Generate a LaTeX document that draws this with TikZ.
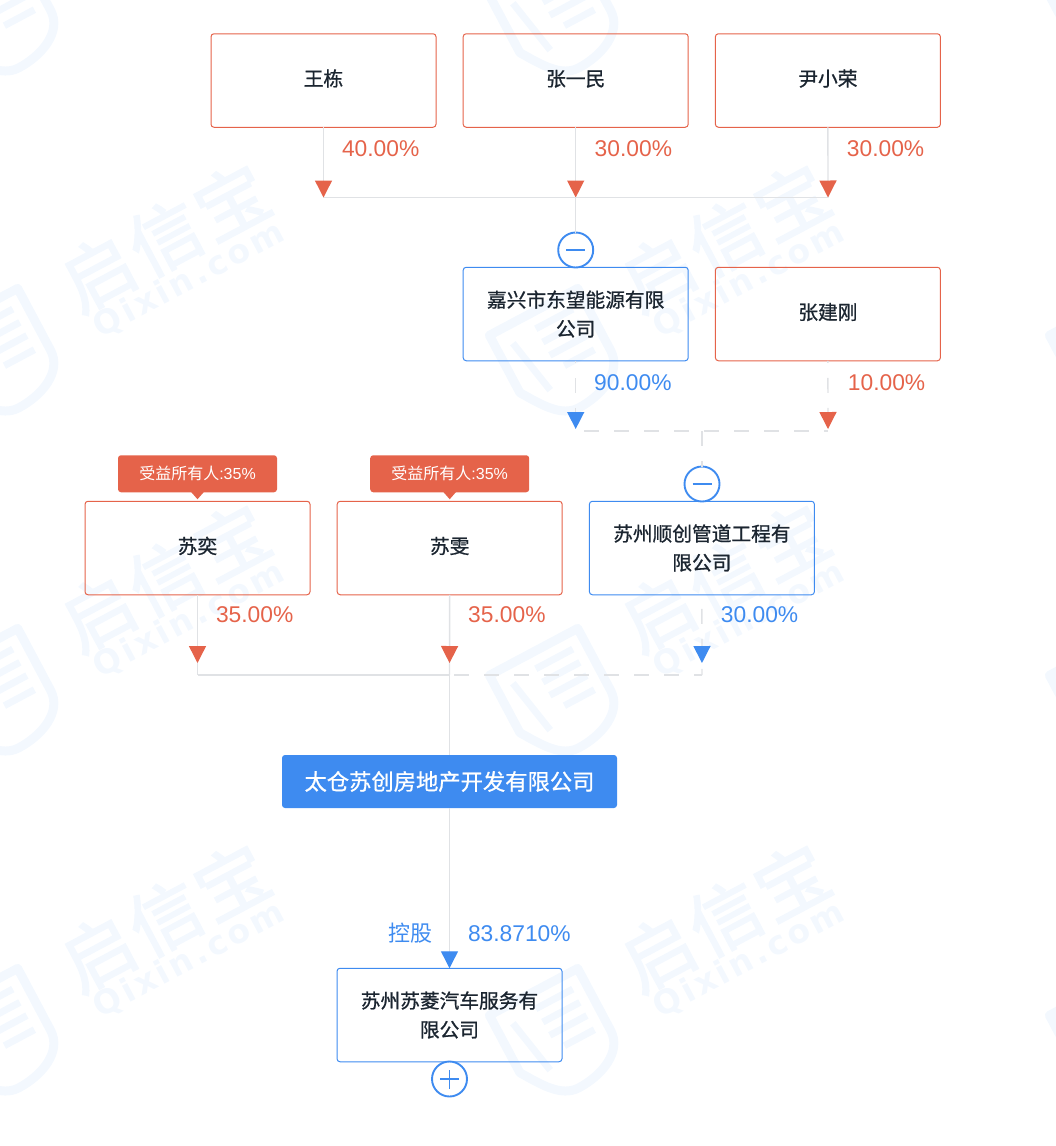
\documentclass[tikz,border=0pt]{standalone}
\usepackage{fontspec}
\setmainfont{Liberation Sans}
\newfontfamily\cjk{Noto Sans CJK SC}
\newfontfamily\cjkmed[FakeBold=0.9]{Noto Sans CJK SC}
\newfontfamily\cjkmark[FakeBold=2.2, LetterSpace=5]{Noto Sans CJK SC}
\newfontfamily\markfont[LetterSpace=10]{DejaVu Sans Bold}
\usetikzlibrary{positioning, arrows.meta, decorations.markings}
\definecolor{boxred}{HTML}{E5634A}
\definecolor{boxblue}{HTML}{3E8BF0}
\definecolor{linegrey}{HTML}{E0E2E5}
\definecolor{textdark}{HTML}{1B2530}
\definecolor{markblue}{HTML}{F3F8FE}
\newcommand{\nudged}[1]{\raisebox{1pt}{#1}}
\tikzset{
    holder/.style={draw=#1, line width=1pt, rounded corners=3pt, minimum width=225pt, minimum height=93.5pt,
        inner sep=0pt, outer sep=0pt, align=center, text=textdark, font={\cjkmed\fontsize{19.7}{29}\selectfont}},
    redbox/.style={holder=boxred, text height=17pt, text depth=6pt},
    bluebox/.style={holder=boxblue},
    pill/.style={fill=boxred, rounded corners=3pt, minimum width=159pt, minimum height=37pt, inner sep=0pt, outer sep=0pt,
        text=white, font={\fontsize{16}{16}\selectfont}},
    pct/.style={text=#1, inner sep=0pt, outer sep=0pt, text height=16pt, text depth=0pt, font={\fontsize{22.8}{22.8}\selectfont}},
    redpct/.style={pct=boxred},
    bluepct/.style={pct=boxblue},
    btn/.style={circle, draw=boxblue, line width=1.9pt, fill=white, minimum size=35pt, inner sep=0pt, outer sep=0pt},
    minusbtn/.style={btn, path picture={
        \draw[boxblue, line width=1.2pt] ([xshift=-9.5pt]path picture bounding box.center) -- ([xshift=9.5pt]path picture bounding box.center);}},
    plusbtn/.style={btn, path picture={
        \draw[boxblue, line width=1.2pt] ([xshift=-9.5pt]path picture bounding box.center) -- ([xshift=9.5pt]path picture bounding box.center);
        \draw[boxblue, line width=1.2pt] ([yshift=-9.5pt]path picture bounding box.center) -- ([yshift=9.5pt]path picture bounding box.center);}},
    link/.style={draw=linegrey, line width=1.4pt},
    dashlink/.style={link, dash pattern=on 15pt off 15pt, dash phase=#1},
    tiphead/.style 2 args={postaction={decorate, decoration={markings,
        mark=at position #2 with {\arrow[#1]{Triangle[length=17pt, width=17pt]}}}}},
    redtip/.style={tiphead={boxred}{#1}},
    bluetip/.style={tiphead={boxblue}{#1}},
}

\begin{document}
\begin{tikzpicture}[x=1pt, y=-1pt, node distance=27.2pt]
    \useasboundingbox (0,0) rectangle (1056,1146);
    % watermark
    \begin{scope}
        \clip (0,0) rectangle (1056,1146);
        \foreach \i in {0,1} {
            \foreach \j in {1,2,3} {
                \node[rotate=28, text=markblue, font={\cjkmark\fontsize{72}{72}\selectfont}] (mark\i\j)
                    at ({165+560*\i},{-103+340*\j}) {启信宝};
                \node[rotate=28, text=markblue, font={\markfont\fontsize{33}{33}\selectfont}] (site\i\j)
                    at ({189+560*\i},{-60+340*\j}) {Qixin.com};
            }
        }
        \foreach \i in {0,1,2} {
            \foreach \j in {0,1,2,3} {
                \begin{scope}[shift={({-3+560*\i},{16+340*\j})}, rotate=28, y=1pt]
                    \draw[markblue, line width=9pt, line join=round] (-50,50) -- (50,50) -- (50,-20) .. controls (50,-45) and (20,-56) .. (-5,-56)
                        .. controls (-25,-56) and (-37,-35) .. (-50,-15) -- cycle;
                    \draw[markblue, line width=7pt] (-33,32) -- (-22,-27);
                    \foreach \k in {34,19,4} {
                        \draw[markblue, line width=7pt] (-6,\k) -- (36,\k);
                    }
                    \draw[markblue, line width=7pt] (2,-12) -- (36,-12);
                \end{scope}
            }
        }
    \end{scope}

    % first row
    \node[redbox] (wangdong) at (323.5,80.5) {王栋};
    \node[redbox, right=of wangdong] (zhangyimin) {张一民};
    \node[redbox, right=of zhangyimin] (yinxiaorong) {尹小荣};
    % second row
    \node[bluebox] (jiaxing) at (575.7,314) {\nudged{嘉兴市东望能源有限}\\\nudged{公司}};
    \node[redbox, right=of jiaxing] (zhangjiangang) {张建刚};
    % third row
    \node[redbox] (suyi) at (197.5,548) {苏奕};
    \node[redbox, right=of suyi] (suwen) {苏雯};
    \node[bluebox, right=of suwen] (shunchuang) {\nudged{苏州顺创管道工程有}\\\nudged{限公司}};
    % company and its subsidiary
    \node[fill=boxblue, rounded corners=3pt, minimum width=335pt, minimum height=53pt, inner sep=0pt, text=white,
        font={\cjkmed\fontsize{22.3}{22.3}\selectfont}] (taicang) at (449.5,781.5) {太仓苏创房地产开发有限公司};
    \node[bluebox] (suling) at (449.5,1015) {\nudged{苏州苏菱汽车服务有}\\\nudged{限公司}};

    \coordinate (busa) at (575.7,197.5);
    \coordinate (busal) at (323.5,197.5);
    \coordinate (busar) at (828,197.5);
    \coordinate (busb) at (702,431);
    \coordinate (busbl) at (575.7,431);
    \coordinate (busbr) at (828,431);
    \coordinate (busc) at (449.5,675);
    \coordinate (buscl) at (197.5,675);
    \coordinate (buscr) at (702,675);

    % connectors, first level
    \draw[link, redtip=1] (wangdong.south) -- (busal);
    \draw[link, redtip=1] (zhangyimin.south) -- (busa);
    \draw[link, redtip=1] (yinxiaorong.south) -- (busar);
    \draw[link] (busal) -- (busar);
    \node[minusbtn] (foldjx) at (575.7,250) {};
    \draw[link] (busa) -- (foldjx);
    % connectors, second level
    \draw[dashlink=13pt, bluetip=-2pt] (jiaxing.south) -- (busbl);
    \draw[dashlink=13pt, redtip=-2pt] (zhangjiangang.south) -- (busbr);
    \draw[dashlink=21.5pt] (busbl) -- (busbr);
    \node[minusbtn] (foldsc) at (702,484) {};
    \draw[dashlink=0pt] (busb) -- (foldsc);
    % connectors, third level
    \draw[link, redtip=-12pt] (suyi.south) -- (buscl);
    \draw[link, redtip=-12pt] (suwen.south) -- (busc);
    \draw[dashlink=16pt, bluetip=-12pt] (shunchuang.south) -- (buscr);
    \draw[link] (buscl) -- (busc);
    \draw[dashlink=25.5pt] (busc) -- (buscr);
    \draw[link] (busc) -- (taicang);
    \draw[link, bluetip=1] (taicang) -- (suling);
    \node[plusbtn] (unfold) at (449.5,1079) {};

    % shares
    \node[redpct, below right=13pt and 18.5pt of wangdong.south] (pcta) {40.00\%};
    \node[redpct, below right=13pt and 19pt of zhangyimin.south] (pctb) {30.00\%};
    \node[redpct, below right=13pt and 19pt of yinxiaorong.south] (pctc) {30.00\%};
    \node[bluepct, below right=14pt and 18.5pt of jiaxing.south] (pctd) {90.00\%};
    \node[redpct, below right=14pt and 20pt of zhangjiangang.south] (pcte) {10.00\%};
    \node[redpct, below right=12pt and 18.5pt of suyi.south] (pctf) {35.00\%};
    \node[redpct, below right=12pt and 18.5pt of suwen.south] (pctg) {35.00\%};
    \node[bluepct, below right=12pt and 19pt of shunchuang.south] (pcth) {30.00\%};
    \node[bluepct, anchor=north west] (pcti) at (468,925) {83.8710\%};
    \node[text=boxblue, inner sep=0pt, font={\cjk\fontsize{22}{22}\selectfont}] (kong) at (410.5,933) {控股};

    % beneficial owners
    \node[pill, above=9pt of suyi] (pilla) {{\cjk 受益所有人}:35\%};
    \node[pill, above=9pt of suwen] (pillb) {{\cjk 受益所有人}:35\%};
    \foreach \p in {pilla,pillb} {
        \fill[boxred] ([xshift=-7pt,yshift=1pt]\p.south) -- ([xshift=7pt,yshift=1pt]\p.south) -- ([yshift=-7pt]\p.south) -- cycle;
    }
\end{tikzpicture}
\end{document}
